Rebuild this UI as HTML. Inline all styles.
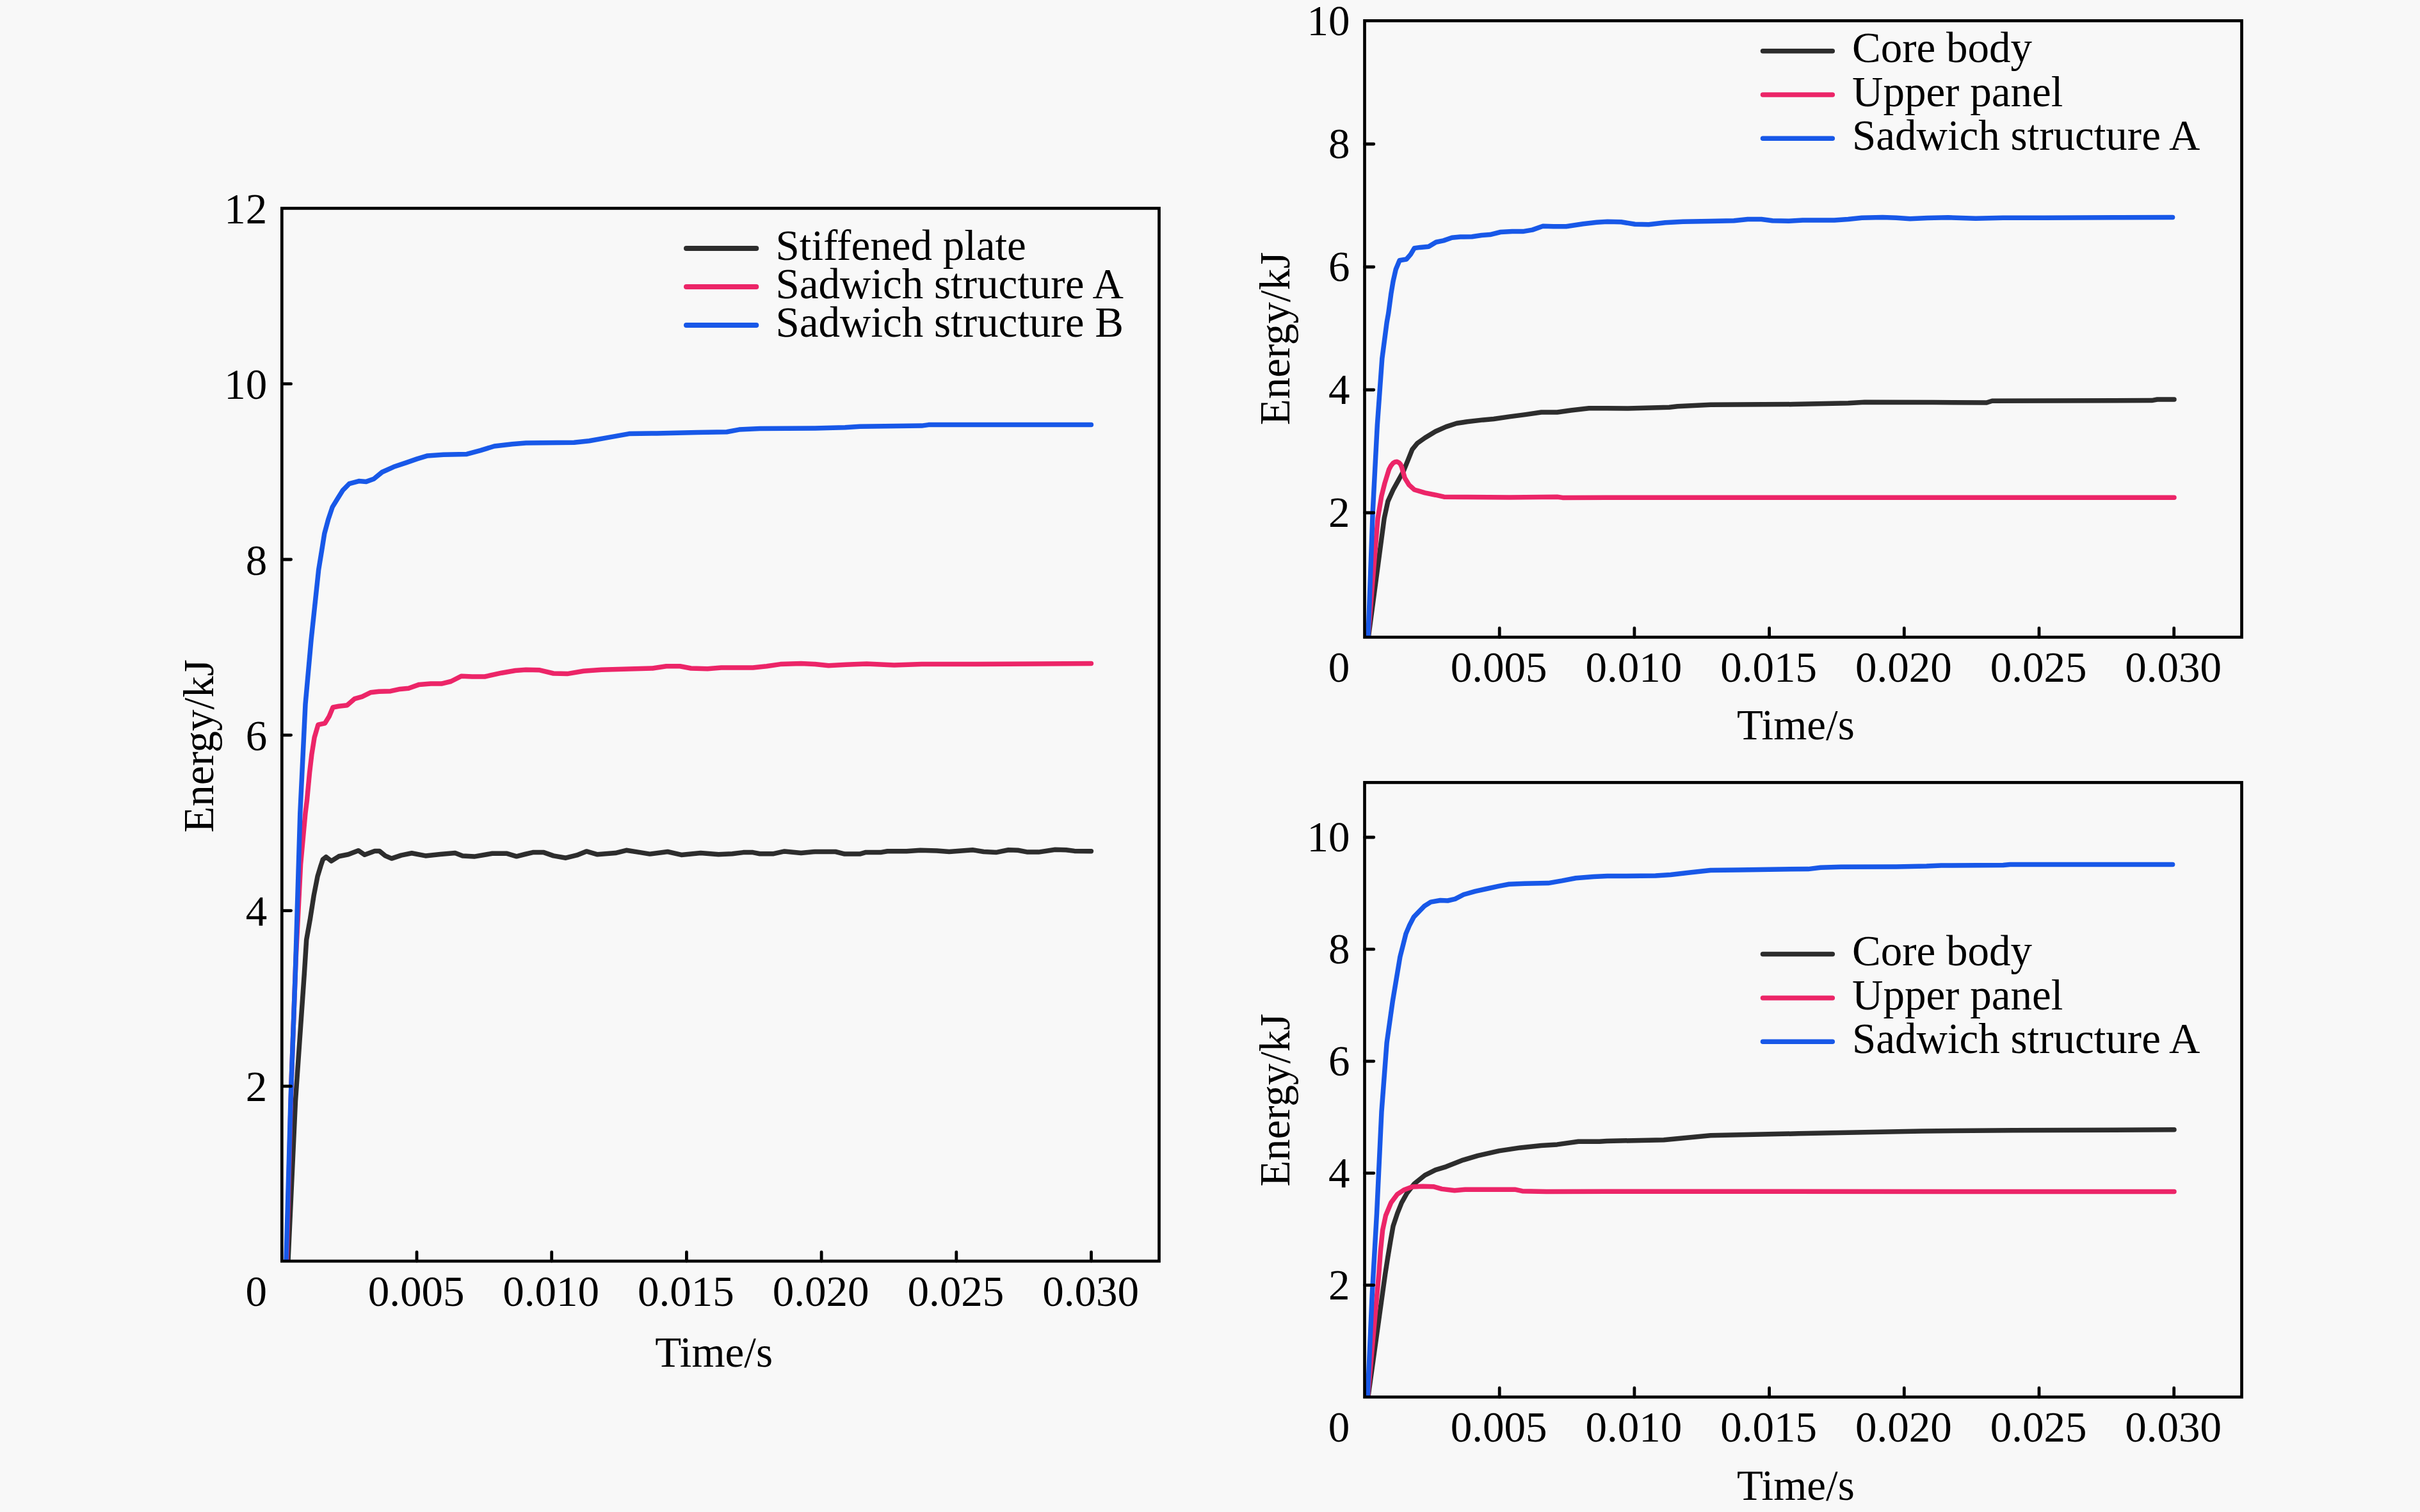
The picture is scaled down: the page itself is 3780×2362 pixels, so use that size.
<!DOCTYPE html>
<html><head><meta charset="utf-8"><title>Energy curves</title>
<style>html,body{margin:0;padding:0;background:#f8f8f8}svg{display:block}text{font-family:"Liberation Serif",serif;font-size:67px;fill:#000}</style></head>
<body>
<svg width="3780" height="2362" viewBox="0 0 3780 2362">
<rect width="3780" height="2362" fill="#f8f8f8"/>
<defs><clipPath id="c0"><rect x="440.3" y="325.4" width="1370.2" height="1644.7"/></clipPath><clipPath id="c1"><rect x="2131.5" y="32.4" width="1370.0" height="963.0"/></clipPath><clipPath id="c2"><rect x="2131.5" y="1222.4" width="1370.0" height="960.0"/></clipPath></defs>
<g id="left">
<g clip-path="url(#c0)">
<path d="M450.0 1970.0 L461.5 1720.0 L475.4 1520.0 L478.7 1468.0 L484.5 1435.3 L490.2 1398.9 L496.0 1369.2 L501.0 1352.6 L504.3 1342.7 L509.3 1338.6 L517.5 1345.2 L529.1 1337.8 L544.0 1334.8 L559.7 1328.7 L569.6 1335.3 L585.3 1329.5 L592.7 1329.5 L601.8 1336.9 L611.7 1341.1 L626.6 1336.1 L643.1 1332.8 L664.6 1336.9 L687.8 1334.5 L710.9 1332.5 L722.5 1336.9 L740.7 1338.1 L768.8 1333.3 L791.9 1333.3 L806.8 1337.8 L819.8 1334.5 L832.2 1331.6 L849.4 1331.6 L864.5 1336.9 L883.8 1340.2 L901.0 1335.9 L916.0 1329.9 L933.2 1334.8 L961.2 1332.6 L978.3 1328.3 L999.8 1331.6 L1014.9 1334.1 L1042.8 1330.5 L1064.3 1335.4 L1094.4 1332.6 L1122.3 1334.8 L1143.8 1333.7 L1161.0 1331.6 L1176.0 1331.6 L1186.8 1333.7 L1208.3 1333.7 L1225.4 1329.9 L1251.2 1332.6 L1272.7 1330.5 L1305.0 1330.5 L1319.3 1334.1 L1343.0 1334.1 L1351.6 1331.6 L1375.2 1331.6 L1386.0 1329.8 L1416.0 1329.8 L1437.5 1328.3 L1463.3 1329.0 L1482.6 1330.5 L1519.2 1327.7 L1536.4 1330.5 L1555.7 1331.6 L1575.0 1327.7 L1590.0 1328.3 L1605.1 1331.1 L1622.3 1331.1 L1648.1 1327.3 L1665.3 1327.7 L1678.2 1329.4 L1704.4 1329.8" fill="none" stroke="#2d2d2d" stroke-width="7.5" stroke-linejoin="round" stroke-linecap="round"/>
<path d="M447.8 1970.0 L455.0 1692.0 L462.1 1498.6 L469.6 1350.5 L477.0 1270.0 L479.5 1250.0 L483.6 1206.6 L486.9 1178.5 L491.1 1152.1 L496.9 1132.2 L507.6 1129.8 L514.2 1119.0 L520.0 1105.0 L529.1 1103.3 L542.3 1101.7 L553.9 1091.7 L565.5 1088.4 L578.7 1081.8 L591.9 1080.2 L610.0 1079.7 L625.0 1076.4 L638.2 1075.2 L654.7 1069.4 L672.9 1068.1 L689.4 1068.1 L704.3 1064.5 L720.8 1056.2 L737.4 1057.0 L757.2 1057.0 L783.6 1051.2 L805.0 1047.5 L821.5 1046.2 L843.0 1046.8 L864.5 1052.0 L886.0 1052.6 L911.7 1048.3 L939.7 1046.2 L982.6 1045.1 L1019.2 1044.0 L1040.7 1040.8 L1062.1 1040.8 L1079.3 1044.0 L1105.1 1044.7 L1126.6 1043.0 L1176.0 1043.0 L1197.5 1040.8 L1219.0 1037.6 L1251.2 1036.5 L1272.7 1037.6 L1294.2 1039.7 L1321.5 1038.2 L1353.7 1037.0 L1396.7 1039.1 L1439.7 1037.6 L1504.1 1037.6 L1622.3 1037.0 L1704.4 1036.5" fill="none" stroke="#ec2568" stroke-width="7.5" stroke-linejoin="round" stroke-linecap="round"/>
<path d="M447.0 1970.0 L454.0 1720.0 L461.3 1520.0 L468.8 1270.0 L477.0 1100.0 L486.0 1000.0 L497.7 889.9 L502.6 859.8 L506.8 833.4 L512.6 811.9 L519.2 792.1 L527.4 778.8 L535.7 765.6 L545.6 755.7 L560.5 751.6 L572.1 752.4 L583.6 748.3 L596.9 737.5 L615.0 729.3 L634.9 722.6 L651.4 716.9 L667.9 711.9 L692.7 710.2 L729.1 709.4 L750.6 703.6 L772.1 697.0 L800.2 693.7 L821.5 692.0 L896.7 691.3 L920.3 688.8 L950.4 683.4 L982.6 677.6 L1025.6 676.9 L1090.1 675.4 L1135.2 674.8 L1154.5 671.1 L1186.8 669.4 L1272.7 669.0 L1320.0 667.7 L1343.0 666.2 L1439.7 665.1 L1450.4 663.6 L1704.4 663.6" fill="none" stroke="#1858e8" stroke-width="7.5" stroke-linejoin="round" stroke-linecap="round"/>
</g>
<rect x="440.3" y="325.4" width="1370.2" height="1644.7" fill="none" stroke="#000" stroke-width="4.7"/>
<line x1="651.0" y1="1970.1" x2="651.0" y2="1955.8" stroke="#000" stroke-width="4.8" stroke-linecap="round"/>
<text x="650.0" y="2039.9" text-anchor="middle">0.005</text>
<line x1="861.7" y1="1970.1" x2="861.7" y2="1955.8" stroke="#000" stroke-width="4.8" stroke-linecap="round"/>
<text x="860.7" y="2039.9" text-anchor="middle">0.010</text>
<line x1="1072.4" y1="1970.1" x2="1072.4" y2="1955.8" stroke="#000" stroke-width="4.8" stroke-linecap="round"/>
<text x="1071.4" y="2039.9" text-anchor="middle">0.015</text>
<line x1="1283.1" y1="1970.1" x2="1283.1" y2="1955.8" stroke="#000" stroke-width="4.8" stroke-linecap="round"/>
<text x="1282.1" y="2039.9" text-anchor="middle">0.020</text>
<line x1="1493.8" y1="1970.1" x2="1493.8" y2="1955.8" stroke="#000" stroke-width="4.8" stroke-linecap="round"/>
<text x="1492.8" y="2039.9" text-anchor="middle">0.025</text>
<line x1="1704.5" y1="1970.1" x2="1704.5" y2="1955.8" stroke="#000" stroke-width="4.8" stroke-linecap="round"/>
<text x="1703.5" y="2039.9" text-anchor="middle">0.030</text>
<line x1="440.3" y1="1696.9" x2="454.6" y2="1696.9" stroke="#000" stroke-width="4.8" stroke-linecap="round"/>
<text x="417.3" y="1720.4" text-anchor="end">2</text>
<line x1="440.3" y1="1422.6" x2="454.6" y2="1422.6" stroke="#000" stroke-width="4.8" stroke-linecap="round"/>
<text x="417.3" y="1446.1" text-anchor="end">4</text>
<line x1="440.3" y1="1148.3" x2="454.6" y2="1148.3" stroke="#000" stroke-width="4.8" stroke-linecap="round"/>
<text x="417.3" y="1171.8" text-anchor="end">6</text>
<line x1="440.3" y1="874.0" x2="454.6" y2="874.0" stroke="#000" stroke-width="4.8" stroke-linecap="round"/>
<text x="417.3" y="897.5" text-anchor="end">8</text>
<line x1="440.3" y1="599.7" x2="454.6" y2="599.7" stroke="#000" stroke-width="4.8" stroke-linecap="round"/>
<text x="417.3" y="623.2" text-anchor="end">10</text>
<text x="417.3" y="348.9" text-anchor="end">12</text>
<text x="400.3" y="2039.9" text-anchor="middle">0</text>
<text x="1023.3" y="2135.0">Time/s</text>
<text transform="translate(332.7 1165.5) rotate(-90)" text-anchor="middle">Energy/kJ</text>
<line x1="1072" y1="387.9" x2="1181.3" y2="387.9" stroke="#2d2d2d" stroke-width="8" stroke-linecap="round"/>
<text x="1211.5" y="405.5">Stiffened plate</text>
<line x1="1072" y1="447.9" x2="1181.3" y2="447.9" stroke="#ec2568" stroke-width="8" stroke-linecap="round"/>
<text x="1211.5" y="465.5">Sadwich structure A</text>
<line x1="1072" y1="507.9" x2="1181.3" y2="507.9" stroke="#1858e8" stroke-width="8" stroke-linecap="round"/>
<text x="1211.5" y="525.5">Sadwich structure B</text>
</g>
<g id="topright">
<g clip-path="url(#c1)">
<path d="M2137.5 995.0 L2162.1 809.9 L2167.9 783.1 L2176.1 765.0 L2184.4 750.1 L2192.6 735.2 L2199.3 718.7 L2205.9 702.1 L2214.1 692.2 L2225.7 684.0 L2242.2 674.0 L2258.8 666.6 L2275.3 661.2 L2291.8 658.8 L2316.6 655.9 L2333.1 654.5 L2357.9 650.9 L2382.7 647.6 L2407.5 644.0 L2432.3 644.0 L2453.8 641.0 L2481.9 637.7 L2509.8 637.7 L2543.0 638.0 L2607.4 636.3 L2620.3 634.8 L2671.9 632.2 L2800.8 631.6 L2886.8 629.8 L2912.6 628.3 L3020.0 628.6 L3103.1 629.0 L3111.7 626.2 L3361.0 625.6 L3369.6 624.0 L3396.0 624.0" fill="none" stroke="#2d2d2d" stroke-width="7.5" stroke-linejoin="round" stroke-linecap="round"/>
<path d="M2137.0 995.0 L2152.1 809.9 L2157.9 774.9 L2162.9 755.0 L2169.5 733.6 L2172.8 727.3 L2176.1 723.4 L2179.0 721.6 L2181.9 721.2 L2185.0 722.6 L2187.7 725.6 L2189.6 730.0 L2191.0 735.2 L2194.3 746.8 L2200.9 757.5 L2209.2 765.0 L2225.7 769.9 L2242.2 773.2 L2255.5 776.2 L2291.8 776.5 L2357.9 776.9 L2432.3 776.2 L2440.6 777.4 L2509.8 777.2 L3396.0 777.3" fill="none" stroke="#ec2568" stroke-width="7.5" stroke-linejoin="round" stroke-linecap="round"/>
<path d="M2137.0 995.3 L2144.2 800.0 L2151.3 664.1 L2158.8 560.1 L2166.2 503.5 L2168.7 489.4 L2172.8 458.9 L2176.1 439.2 L2180.3 420.7 L2186.1 406.7 L2196.8 405.0 L2203.4 397.4 L2209.2 387.6 L2218.3 386.4 L2231.5 385.2 L2243.1 378.2 L2254.7 375.9 L2267.9 371.3 L2281.1 370.1 L2299.2 369.8 L2314.2 367.5 L2327.4 366.6 L2343.9 362.5 L2362.1 361.6 L2378.6 361.6 L2393.5 359.1 L2410.0 353.3 L2426.6 353.8 L2446.4 353.8 L2472.8 349.8 L2494.2 347.2 L2510.7 346.2 L2532.2 346.7 L2553.7 350.3 L2575.2 350.7 L2600.9 347.7 L2628.9 346.2 L2671.8 345.5 L2708.4 344.7 L2729.9 342.5 L2751.3 342.5 L2768.5 344.7 L2794.3 345.2 L2815.8 344.0 L2865.2 344.0 L2886.7 342.5 L2908.2 340.2 L2940.4 339.4 L2961.9 340.2 L2983.4 341.7 L3010.7 340.6 L3042.9 339.8 L3085.9 341.3 L3128.9 340.2 L3193.3 340.2 L3311.5 339.8 L3393.6 339.4" fill="none" stroke="#1858e8" stroke-width="7.5" stroke-linejoin="round" stroke-linecap="round"/>
</g>
<rect x="2131.5" y="32.4" width="1370.0" height="963.0" fill="none" stroke="#000" stroke-width="4.7"/>
<line x1="2342.2" y1="995.4" x2="2342.2" y2="981.1" stroke="#000" stroke-width="4.8" stroke-linecap="round"/>
<text x="2341.2" y="1065.2" text-anchor="middle">0.005</text>
<line x1="2552.9" y1="995.4" x2="2552.9" y2="981.1" stroke="#000" stroke-width="4.8" stroke-linecap="round"/>
<text x="2551.9" y="1065.2" text-anchor="middle">0.010</text>
<line x1="2763.6" y1="995.4" x2="2763.6" y2="981.1" stroke="#000" stroke-width="4.8" stroke-linecap="round"/>
<text x="2762.6" y="1065.2" text-anchor="middle">0.015</text>
<line x1="2974.3" y1="995.4" x2="2974.3" y2="981.1" stroke="#000" stroke-width="4.8" stroke-linecap="round"/>
<text x="2973.3" y="1065.2" text-anchor="middle">0.020</text>
<line x1="3185.0" y1="995.4" x2="3185.0" y2="981.1" stroke="#000" stroke-width="4.8" stroke-linecap="round"/>
<text x="3184.0" y="1065.2" text-anchor="middle">0.025</text>
<line x1="3395.7" y1="995.4" x2="3395.7" y2="981.1" stroke="#000" stroke-width="4.8" stroke-linecap="round"/>
<text x="3394.7" y="1065.2" text-anchor="middle">0.030</text>
<line x1="2131.5" y1="801.0" x2="2145.8" y2="801.0" stroke="#000" stroke-width="4.8" stroke-linecap="round"/>
<text x="2108.5" y="823.0" text-anchor="end">2</text>
<line x1="2131.5" y1="609.0" x2="2145.8" y2="609.0" stroke="#000" stroke-width="4.8" stroke-linecap="round"/>
<text x="2108.5" y="631.0" text-anchor="end">4</text>
<line x1="2131.5" y1="417.0" x2="2145.8" y2="417.0" stroke="#000" stroke-width="4.8" stroke-linecap="round"/>
<text x="2108.5" y="439.0" text-anchor="end">6</text>
<line x1="2131.5" y1="225.0" x2="2145.8" y2="225.0" stroke="#000" stroke-width="4.8" stroke-linecap="round"/>
<text x="2108.5" y="247.0" text-anchor="end">8</text>
<text x="2108.5" y="55.0" text-anchor="end">10</text>
<text x="2091.5" y="1065.2" text-anchor="middle">0</text>
<text x="2713.0" y="1155.0">Time/s</text>
<text transform="translate(2013.6 529.0) rotate(-90)" text-anchor="middle">Energy/kJ</text>
<line x1="2753.5" y1="79.7" x2="2862.3" y2="79.7" stroke="#2d2d2d" stroke-width="7.5" stroke-linecap="round"/>
<text x="2893" y="97.3">Core body</text>
<line x1="2753.5" y1="148.0" x2="2862.3" y2="148.0" stroke="#ec2568" stroke-width="7.5" stroke-linecap="round"/>
<text x="2893" y="165.6">Upper panel</text>
<line x1="2753.5" y1="216.3" x2="2862.3" y2="216.3" stroke="#1858e8" stroke-width="7.5" stroke-linecap="round"/>
<text x="2893" y="233.9">Sadwich structure A</text>
</g>
<g id="bottomright">
<g clip-path="url(#c2)">
<path d="M2137.0 2182.0 L2163.7 1989.9 L2167.9 1963.1 L2172.0 1938.3 L2176.1 1915.2 L2182.7 1895.4 L2189.3 1878.8 L2197.6 1864.0 L2209.2 1849.1 L2225.7 1835.9 L2242.2 1827.6 L2258.8 1822.6 L2283.6 1812.7 L2308.3 1805.3 L2341.4 1797.9 L2374.5 1792.9 L2407.5 1789.6 L2432.3 1787.9 L2465.4 1783.3 L2498.4 1783.3 L2509.8 1782.5 L2598.8 1780.7 L2671.9 1773.8 L2809.4 1770.8 L3002.8 1766.9 L3144.6 1765.7 L3396.0 1764.8" fill="none" stroke="#2d2d2d" stroke-width="7.5" stroke-linejoin="round" stroke-linecap="round"/>
<path d="M2136.5 2182.0 L2153.8 1989.9 L2156.3 1954.9 L2159.6 1921.8 L2164.5 1898.7 L2172.8 1878.8 L2182.7 1865.6 L2192.6 1859.0 L2205.9 1854.0 L2222.4 1853.2 L2238.9 1853.7 L2252.1 1857.4 L2272.0 1859.8 L2288.5 1858.2 L2366.2 1858.2 L2377.8 1860.7 L2415.8 1861.5 L2509.8 1861.2 L3396.0 1861.5" fill="none" stroke="#ec2568" stroke-width="7.5" stroke-linejoin="round" stroke-linecap="round"/>
<path d="M2136.2 2182.3 L2143.2 2023.1 L2150.5 1895.8 L2158.0 1736.6 L2166.2 1628.4 L2175.2 1564.7 L2186.9 1494.6 L2191.8 1475.4 L2196.0 1458.6 L2201.8 1444.9 L2208.4 1432.3 L2216.6 1423.8 L2224.9 1415.4 L2234.8 1409.1 L2249.7 1406.5 L2261.3 1407.0 L2272.8 1404.4 L2286.1 1397.5 L2304.2 1392.3 L2324.1 1388.0 L2340.6 1384.4 L2357.1 1381.2 L2381.9 1380.2 L2418.3 1379.6 L2439.8 1375.9 L2461.3 1371.7 L2489.4 1369.6 L2510.7 1368.6 L2585.9 1368.1 L2609.5 1366.5 L2639.6 1363.1 L2671.8 1359.4 L2714.8 1358.9 L2779.3 1358.0 L2824.4 1357.6 L2843.7 1355.3 L2876.0 1354.2 L2961.9 1353.9 L3009.2 1353.1 L3032.2 1352.1 L3128.9 1351.4 L3139.6 1350.5 L3393.6 1350.5" fill="none" stroke="#1858e8" stroke-width="7.5" stroke-linejoin="round" stroke-linecap="round"/>
</g>
<rect x="2131.5" y="1222.4" width="1370.0" height="960.0" fill="none" stroke="#000" stroke-width="4.7"/>
<line x1="2342.2" y1="2182.4" x2="2342.2" y2="2168.1" stroke="#000" stroke-width="4.8" stroke-linecap="round"/>
<text x="2341.2" y="2252.2" text-anchor="middle">0.005</text>
<line x1="2552.9" y1="2182.4" x2="2552.9" y2="2168.1" stroke="#000" stroke-width="4.8" stroke-linecap="round"/>
<text x="2551.9" y="2252.2" text-anchor="middle">0.010</text>
<line x1="2763.6" y1="2182.4" x2="2763.6" y2="2168.1" stroke="#000" stroke-width="4.8" stroke-linecap="round"/>
<text x="2762.6" y="2252.2" text-anchor="middle">0.015</text>
<line x1="2974.3" y1="2182.4" x2="2974.3" y2="2168.1" stroke="#000" stroke-width="4.8" stroke-linecap="round"/>
<text x="2973.3" y="2252.2" text-anchor="middle">0.020</text>
<line x1="3185.0" y1="2182.4" x2="3185.0" y2="2168.1" stroke="#000" stroke-width="4.8" stroke-linecap="round"/>
<text x="3184.0" y="2252.2" text-anchor="middle">0.025</text>
<line x1="3395.7" y1="2182.4" x2="3395.7" y2="2168.1" stroke="#000" stroke-width="4.8" stroke-linecap="round"/>
<text x="3394.7" y="2252.2" text-anchor="middle">0.030</text>
<line x1="2131.5" y1="2007.6" x2="2145.8" y2="2007.6" stroke="#000" stroke-width="4.8" stroke-linecap="round"/>
<text x="2108.5" y="2029.6" text-anchor="end">2</text>
<line x1="2131.5" y1="1832.7" x2="2145.8" y2="1832.7" stroke="#000" stroke-width="4.8" stroke-linecap="round"/>
<text x="2108.5" y="1854.7" text-anchor="end">4</text>
<line x1="2131.5" y1="1657.8" x2="2145.8" y2="1657.8" stroke="#000" stroke-width="4.8" stroke-linecap="round"/>
<text x="2108.5" y="1679.8" text-anchor="end">6</text>
<line x1="2131.5" y1="1482.9" x2="2145.8" y2="1482.9" stroke="#000" stroke-width="4.8" stroke-linecap="round"/>
<text x="2108.5" y="1504.9" text-anchor="end">8</text>
<line x1="2131.5" y1="1308.0" x2="2145.8" y2="1308.0" stroke="#000" stroke-width="4.8" stroke-linecap="round"/>
<text x="2108.5" y="1330.0" text-anchor="end">10</text>
<text x="2091.5" y="2252.2" text-anchor="middle">0</text>
<text x="2713.0" y="2343.0">Time/s</text>
<text transform="translate(2013.6 1718.6) rotate(-90)" text-anchor="middle">Energy/kJ</text>
<line x1="2753.5" y1="1490.6" x2="2862.3" y2="1490.6" stroke="#2d2d2d" stroke-width="7.5" stroke-linecap="round"/>
<text x="2893" y="1508.2">Core body</text>
<line x1="2753.5" y1="1558.9" x2="2862.3" y2="1558.9" stroke="#ec2568" stroke-width="7.5" stroke-linecap="round"/>
<text x="2893" y="1576.5">Upper panel</text>
<line x1="2753.5" y1="1627.2" x2="2862.3" y2="1627.2" stroke="#1858e8" stroke-width="7.5" stroke-linecap="round"/>
<text x="2893" y="1644.8">Sadwich structure A</text>
</g>
</svg></body></html>
